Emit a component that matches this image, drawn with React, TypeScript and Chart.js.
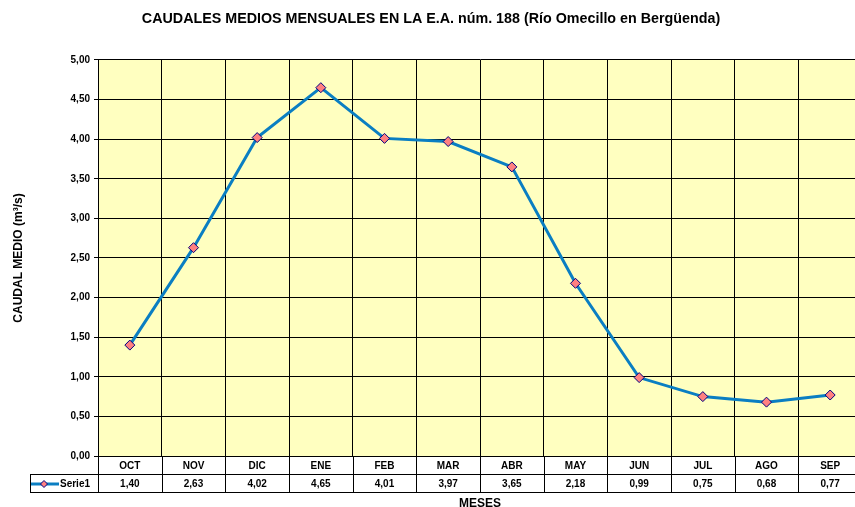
import React, { useEffect, useRef } from "react";
import { Chart, registerables } from "chart.js";

Chart.register(...registerables);

const months = ["OCT", "NOV", "DIC", "ENE", "FEB", "MAR", "ABR", "MAY", "JUN", "JUL", "AGO", "SEP"];
const caudales = [1.4, 2.63, 4.02, 4.65, 4.01, 3.97, 3.65, 2.18, 0.99, 0.75, 0.68, 0.77];
const seriesName = "Serie1";
const chartTitle = "CAUDALES MEDIOS MENSUALES EN LA E.A. núm. 188 (Río Omecillo en Bergüenda)";
const yTitle = "CAUDAL MEDIO (m³/s)";
const xTitle = "MESES";

const FONT = "'Liberation Sans', Arial, sans-serif";
const LINE_COLOR = "#0A7EC2";
const fmt = (v: number) => v.toFixed(2).replace(".", ",");

const tablePlugin = {
  id: "tablePlugin",
  beforeDraw(chart: any) {
    const { ctx, chartArea } = chart;
    ctx.save();
    ctx.fillStyle = "#ffffff";
    ctx.fillRect(0, 0, chart.width, chart.height);
    ctx.fillStyle = "#FFFFC0";
    ctx.fillRect(chartArea.left, chartArea.top, chartArea.right - chartArea.left, chartArea.bottom - chartArea.top);
    ctx.restore();
  },
  afterDraw(chart: any) {
    const { ctx, chartArea } = chart;
    const xs = chart.scales.x;
    const n = months.length;
    const w = (xs.getPixelForValue(1) - xs.getPixelForValue(0));
    const row1Bottom = chartArea.bottom + 18;
    const row2Bottom = chartArea.bottom + 36;
    const tableLeft = 30;
    ctx.save();
    ctx.strokeStyle = "#000000";
    ctx.lineWidth = 1;
    ctx.beginPath();
    for (let i = 0; i <= n; i++) {
      const x = Math.round(xs.getPixelForValue(i) - w / 2) + 0.5;
      ctx.moveTo(x, chartArea.bottom);
      ctx.lineTo(x, row2Bottom);
    }
    ctx.moveTo(tableLeft, row1Bottom + 0.5);
    ctx.lineTo(chart.width, row1Bottom + 0.5);
    ctx.moveTo(tableLeft, row2Bottom + 0.5);
    ctx.lineTo(chart.width, row2Bottom + 0.5);
    ctx.moveTo(tableLeft + 0.5, row1Bottom);
    ctx.lineTo(tableLeft + 0.5, row2Bottom);
    ctx.stroke();

    const midY = (row1Bottom + row2Bottom) / 2 + 1;
    ctx.fillStyle = "#000000";
    ctx.font = `bold 10px ${FONT}`;
    ctx.textAlign = "center";
    ctx.textBaseline = "middle";
    caudales.forEach((v, i) => {
      ctx.fillText(fmt(v), xs.getPixelForValue(i), midY);
    });

    // legend key
    ctx.strokeStyle = LINE_COLOR;
    ctx.lineWidth = 3;
    ctx.beginPath();
    ctx.moveTo(tableLeft + 1, midY);
    ctx.lineTo(tableLeft + 29, midY);
    ctx.stroke();
    const cx = tableLeft + 14;
    const r = 3.5;
    ctx.beginPath();
    ctx.moveTo(cx, midY - r);
    ctx.lineTo(cx + r, midY);
    ctx.lineTo(cx, midY + r);
    ctx.lineTo(cx - r, midY);
    ctx.closePath();
    ctx.fillStyle = "#FF8080";
    ctx.fill();
    ctx.strokeStyle = "#000080";
    ctx.lineWidth = 1;
    ctx.stroke();
    ctx.fillStyle = "#000000";
    ctx.textAlign = "left";
    ctx.fillText(seriesName, tableLeft + 30, midY);
    ctx.restore();
  },
};

export default function App() {
  const ref = useRef<HTMLCanvasElement | null>(null);
  useEffect(() => {
    if (!ref.current) return;
    const chart = new Chart(ref.current, {
      type: "line",
      data: {
        labels: months,
        datasets: [
          {
            label: seriesName,
            data: caudales,
            borderColor: LINE_COLOR,
            borderWidth: 3,
            pointStyle: "rectRot",
            pointRadius: 5,
            pointBackgroundColor: "#FF8080",
            pointBorderColor: "#000080",
            pointBorderWidth: 1,
            tension: 0,
          },
        ],
      },
      options: {
        responsive: false,
        animation: false,
        devicePixelRatio: 1,
        layout: { padding: { left: 0, right: 8, top: 0, bottom: 0 } },
        plugins: {
          legend: { display: false },
          tooltip: { enabled: false },
          title: {
            display: true,
            text: chartTitle,
            color: "#000000",
            font: { family: FONT, size: 14.3, weight: "bold" },
            padding: { top: 10.5, bottom: 32.3 },
          },
        },
        scales: {
          x: {
            type: "category",
            offset: true,
            grid: { offset: true, color: "#000000", drawTicks: false },
            border: { color: "#000000" },
            ticks: {
              color: "#000000",
              font: { family: FONT, size: 10, weight: "bold" },
              padding: 4,
              maxRotation: 0,
              autoSkip: false,
            },
            title: {
              display: true,
              text: xTitle,
              color: "#000000",
              font: { family: FONT, size: 12, weight: "bold" },
              padding: { top: 0, bottom: -4 },
            },
            afterFit(scale: any) {
              scale.height = 51;
            },
          },
          y: {
            min: 0,
            max: 5,
            grid: { color: "#000000", tickLength: 4 },
            border: { color: "#000000" },
            ticks: {
              stepSize: 0.5,
              color: "#000000",
              font: { family: FONT, size: 10, weight: "bold" },
              padding: 4,
              callback: (v: any) => fmt(Number(v)),
            },
            title: {
              display: true,
              text: yTitle,
              color: "#000000",
              font: { family: FONT, size: 12, weight: "bold" },
              padding: { top: 11, bottom: 0 },
            },
            afterFit(scale: any) {
              scale.width = 98;
            },
          },
        },
      },
      plugins: [tablePlugin],
    });
    return () => chart.destroy();
  }, []);
  return (
    <div style={{ position: "absolute", left: 0, top: 0, width: 855, height: 507, overflow: "hidden", background: "#fff" }}>
      <canvas ref={ref} width={870} height={507} style={{ display: "block" }} />
    </div>
  );
}
